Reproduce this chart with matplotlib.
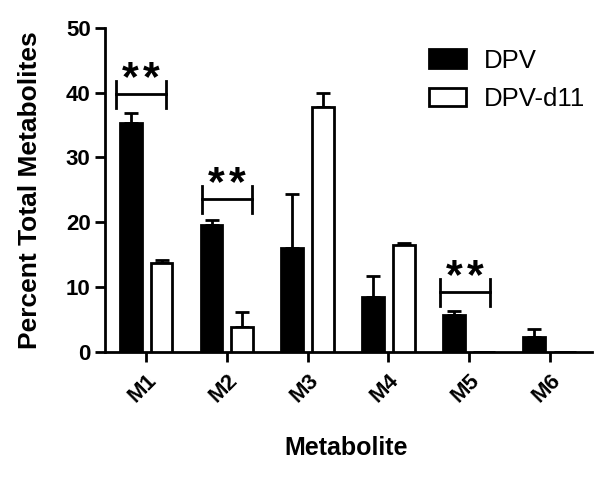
import numpy as np
import matplotlib
matplotlib.use("Agg")
import matplotlib.pyplot as plt

plt.rcParams['font.family'] = ['Liberation Sans', 'DejaVu Sans']

metabolites = ["M1", "M2", "M3", "M4", "M5", "M6"]
dpv = [35.3, 19.6, 16.0, 8.5, 5.7, 2.3]
dpv_err = [1.6, 0.7, 8.3, 3.2, 0.6, 1.2]
dpv_d11 = [13.7, 3.9, 37.8, 16.5, 0.0, 0.0]
dpv_d11_err = [0.5, 2.2, 2.1, 0.3, 0.0, 0.0]

# significance brackets: (group index, bracket height)
sig_groups = [0, 1, 4]
sig_heights = [39.7, 23.5, 9.2]
sig_offsets = [-0.07, 0.0, -0.05]

fig = plt.figure(figsize=(6.12, 4.78), dpi=100)
ax = fig.add_axes([0.172, 0.264, 0.796, 0.678])

x = np.arange(len(metabolites))
w = 0.27
off = 0.19

ax.bar(x - off, dpv, width=w, color='black', edgecolor='black', linewidth=2, label='DPV', zorder=3)
ax.bar(x + off, dpv_d11, width=w, color='white', edgecolor='black', linewidth=2, label='DPV-d11', zorder=3)

# upper error bars only
for xs, vals, errs in [(x - off, dpv, dpv_err), (x + off, dpv_d11, dpv_d11_err)]:
    for xi, v, e in zip(xs, vals, errs):
        if e > 0:
            ax.errorbar(xi, v, yerr=[[0], [e]], fmt='none', ecolor='black',
                        elinewidth=2, capsize=5, capthick=2, zorder=2)

for g, h, o in zip(sig_groups, sig_heights, sig_offsets):
    c = x[g] + o
    ax.plot([c - 0.31, c + 0.31], [h, h], color='black', lw=2, clip_on=False)
    ax.plot([c - 0.31, c - 0.31], [h - 2.1, h + 2.1], color='black', lw=2, clip_on=False)
    ax.plot([c + 0.31, c + 0.31], [h - 2.1, h + 2.1], color='black', lw=2, clip_on=False)
    # two stars drawn apart, with a small gap like the original
    ax.text(c - 0.13, h + 0.7, '*', ha='center', va='baseline', fontsize=31, fontweight='bold')
    ax.text(c + 0.13, h + 0.7, '*', ha='center', va='baseline', fontsize=31, fontweight='bold')

ax.set_xlim(-0.508, 5.53)
ax.set_ylim(0, 50)
ax.set_yticks([0, 10, 20, 30, 40, 50])
ax.set_xticks(x)
ax.set_xticklabels(metabolites, rotation=45, ha='right', rotation_mode='anchor',
                   fontsize=16, fontweight='bold')
for lab in ax.get_yticklabels():
    lab.set_fontsize(16)
    lab.set_fontweight('bold')

ax.spines['top'].set_visible(False)
ax.spines['right'].set_visible(False)
ax.spines['left'].set_linewidth(2)
ax.spines['bottom'].set_linewidth(2)
ax.tick_params(width=2, length=7, direction='out')
ax.tick_params(axis='x', pad=6)

ax.set_ylabel('Percent Total Metabolites', fontsize=19, fontweight='bold')
ax.yaxis.set_label_coords(-0.13, 0.5)
ax.set_xlabel('Metabolite', fontsize=18, fontweight='bold')
ax.xaxis.set_label_coords(0.495, -0.296)
ax.xaxis.label.set_va('center')

ax.legend(loc='upper left', bbox_to_anchor=(0.638, 0.975), frameon=False, fontsize=18.5,
          borderpad=0, handlelength=1.44, handleheight=0.74, handletextpad=0.7,
          labelspacing=0.55)

fig.savefig('out.png', dpi=100)
